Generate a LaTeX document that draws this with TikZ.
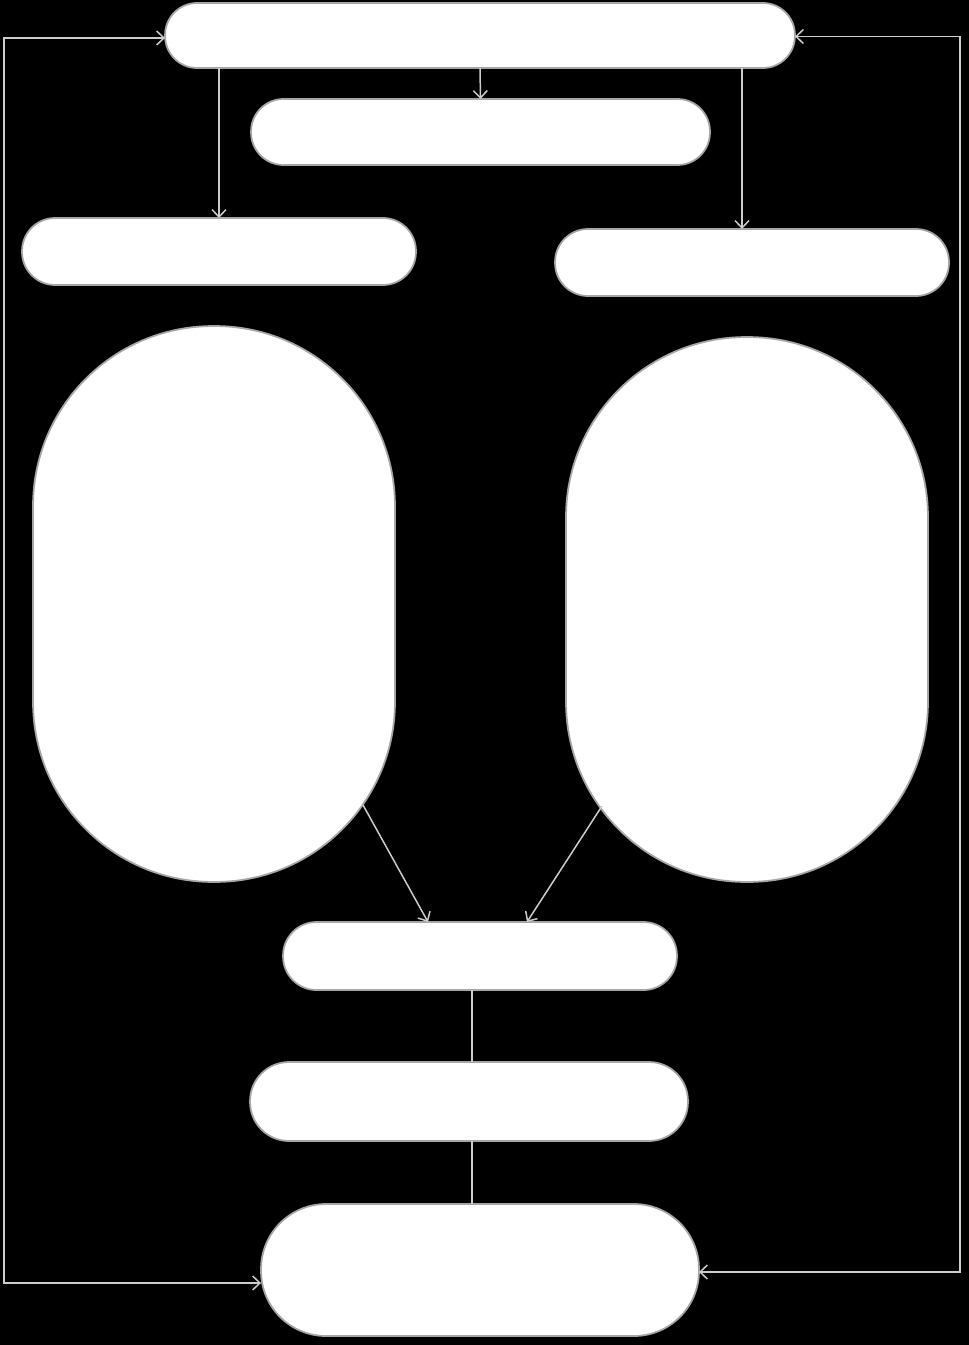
\documentclass[tikz,border=0pt]{standalone}
\usetikzlibrary{arrows.meta}
\begin{document}
\begin{tikzpicture}[x=0.02cm, y=-0.02cm,
    pill/.style={rectangle, fill=white, draw=white!65!black, line width=1pt, inner sep=0pt, outer sep=0pt},
    link/.style={draw=white!80!black, line width=0.85pt},
    >={Straight Barb[length=4.2pt, width=8pt]}]
    % Background
    \fill[black] (0,0) rectangle (969,1345);
    \useasboundingbox (0,0) rectangle (969,1345);

    % Top row
    \node[pill, minimum width=12.6cm, minimum height=1.3cm, rounded corners=0.64cm] (top) at (480,35.5) {};
    \node[pill, minimum width=9.18cm, minimum height=1.32cm, rounded corners=0.65cm] (mid) at (480.5,132) {};
    \node[pill, minimum width=7.88cm, minimum height=1.34cm, rounded corners=0.66cm] (lbox) at (219,251.5) {};
    \node[pill, minimum width=7.88cm, minimum height=1.34cm, rounded corners=0.66cm] (rbox) at (752,262.5) {};

    % Ovals
    \node[pill, minimum width=7.24cm, minimum height=11.12cm, rounded corners=3.6cm] (loval) at (214,604) {};
    \node[pill, minimum width=7.24cm, minimum height=10.9cm, rounded corners=3.6cm] (roval) at (747,609.5) {};
    \coordinate (lexit) at (363,805);
    \coordinate (rexit) at (602,806);

    % Bottom chain
    \node[pill, minimum width=7.88cm, minimum height=1.36cm, rounded corners=0.67cm] (merge) at (480,956) {};
    \node[pill, minimum width=8.76cm, minimum height=1.58cm, rounded corners=0.78cm] (chain) at (469,1101.5) {};
    \node[pill, minimum width=8.76cm, minimum height=2.64cm, rounded corners=1.3cm] (out) at (480,1270) {};

    % Arrows from top
    \draw[link, ->] (lbox.north |- top.south) -- (lbox.north);
    \draw[link, ->] (top.south) -- (mid.north);
    \draw[link, ->] ([xshift=-0.2cm]rbox.north |- top.south) -- ([xshift=-0.2cm]rbox.north);

    % Ovals into merge
    \draw[link, ->] (lexit) -- ([xshift=-1.04cm]merge.north);
    \draw[link, ->] (rexit) -- ([xshift=0.94cm]merge.north);

    % Plain links
    \draw[link] ([xshift=0.06cm]chain.north |- merge.south) -- ([xshift=0.06cm]chain.north);
    \draw[link] ([xshift=0.06cm]chain.south) -- ([xshift=0.06cm]chain.south |- out.north);

    % Side loops
    \draw[link, <->] ([yshift=-0.05cm]top.west) -- ++(-161,0) |- ([yshift=-0.26cm]out.west);
    \draw[link, <->] ([yshift=-0.02cm]top.east) -- ++(165,0) |- ([yshift=-0.04cm]out.east);
\end{tikzpicture}
\end{document}
